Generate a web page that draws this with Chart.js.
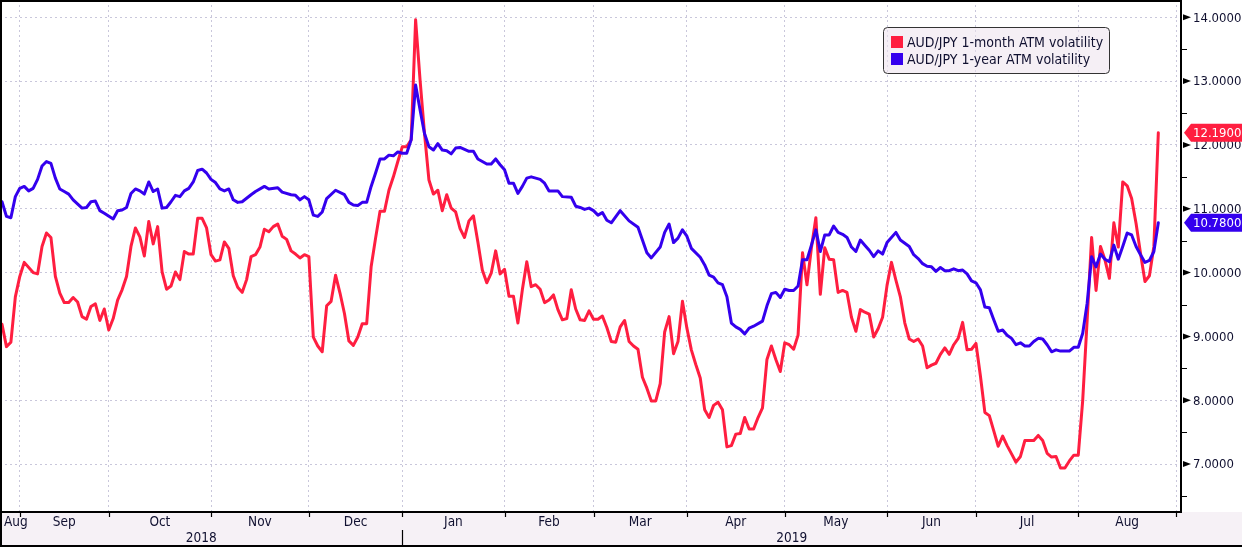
<!DOCTYPE html>
<html><head><meta charset="utf-8">
<script src="https://cdn.jsdelivr.net/npm/chart.js@4/dist/chart.umd.min.js"></script>
<style>html,body{margin:0;padding:0;background:#fff;overflow:hidden}canvas{display:block}</style>
</head><body><canvas id="c" width="1242" height="547"></canvas>
<script>
// ---- data (business-day index; day 1 = 28 Aug 2018) ----
const seriesNames = ['AUD/JPY 1-month ATM volatility', 'AUD/JPY 1-year ATM volatility'];
const firstDay = 1;
const vol1m = [
9.19,8.84,8.91,9.62,9.94,10.16,null,10.00,9.98,10.41,10.62,10.55,9.94,9.68,9.53,9.53,9.61,9.54,9.31,9.27,
9.47,9.51,9.25,9.43,9.10,9.28,9.57,9.73,9.94,10.41,10.70,10.56,10.26,10.80,10.45,10.72,10.01,9.74,9.79,10.01,
9.89,10.33,10.29,10.29,10.85,10.85,10.70,10.28,10.18,10.20,10.48,10.38,9.95,9.77,9.69,9.89,10.25,10.28,10.40,10.68,
10.64,10.72,10.76,10.57,10.52,10.34,10.29,10.23,10.28,10.25,8.99,8.85,8.76,9.48,9.55,9.96,9.68,9.36,8.93,8.86,
8.99,9.20,9.20,10.09,10.54,10.96,10.96,11.29,11.50,11.74,11.97,11.97,12.08,13.96,13.02,12.18,11.45,11.23,11.29,10.97,
11.22,11.01,10.95,10.69,10.55,10.81,10.89,10.48,10.04,9.84,9.99,10.34,9.98,10.05,9.63,9.63,9.21,9.73,10.17,9.78,
9.81,9.74,9.53,9.57,9.65,9.42,9.26,9.28,9.73,9.43,9.26,9.25,9.40,9.27,9.27,9.32,9.14,8.92,8.91,9.15,
9.25,8.92,8.85,8.80,8.36,8.19,7.99,7.99,8.26,9.07,9.31,8.73,8.92,9.55,9.13,8.79,8.56,8.35,7.85,7.73,
7.92,7.97,7.85,7.27,7.29,7.47,7.48,7.73,7.55,7.55,7.73,7.88,8.64,8.85,8.64,8.45,8.90,8.87,8.80,9.02,
10.31,9.81,10.39,10.86,9.66,10.39,10.21,10.20,9.69,9.72,9.69,9.30,9.08,9.42,9.38,9.35,8.99,9.12,9.30,9.80,
10.16,9.88,9.62,9.21,8.96,8.92,8.96,8.85,8.51,8.55,8.58,8.72,8.82,8.72,8.87,8.97,9.22,8.79,8.80,8.89,
8.38,7.81,7.76,7.52,7.28,7.44,7.29,7.16,7.03,7.12,7.37,7.37,7.37,7.45,7.37,7.17,7.11,7.12,6.94,6.94,
7.05,7.14,7.14,8.00,9.26,10.55,9.72,10.41,10.20,9.91,10.78,10.40,11.42,11.36,11.16,10.77,10.30,9.86,9.95,10.41,
12.19
];
const vol1y = [
11.11,10.88,10.86,11.19,11.32,11.35,11.28,11.32,11.46,11.67,11.74,11.71,11.48,11.31,11.27,11.23,11.14,null,11.01,11.02,
11.11,11.12,10.97,10.93,null,10.84,10.97,10.98,11.02,11.24,11.31,11.28,11.23,11.42,11.27,11.31,11.01,11.02,11.11,11.21,
11.19,11.28,11.32,11.42,11.60,11.62,11.56,11.46,11.41,11.31,11.28,11.31,11.14,11.10,11.11,null,11.22,11.27,null,11.35,
11.31,null,11.33,11.26,null,11.22,11.21,11.14,11.19,11.14,10.90,10.88,10.95,11.16,null,11.29,null,11.22,11.10,11.06,
11.05,11.10,11.10,11.35,11.56,11.78,11.78,11.84,11.83,11.89,11.87,11.87,12.08,12.94,12.55,12.18,11.97,11.92,12.02,11.92,
11.91,11.86,11.95,11.96,null,11.90,11.90,11.78,null,11.70,11.70,11.78,11.69,11.61,11.40,11.40,11.24,11.35,11.48,11.50,
null,11.46,11.40,11.28,null,11.28,11.19,null,11.18,11.04,11.02,10.99,11.01,10.97,10.90,10.94,10.82,10.78,null,10.97,
null,10.81,null,10.71,10.51,10.31,10.23,null,10.40,10.63,10.76,10.47,10.54,10.67,10.57,10.38,null,10.24,10.12,9.96,
9.93,9.84,9.81,9.62,9.21,9.15,9.11,9.04,9.13,9.16,null,9.24,9.48,9.67,9.69,9.61,9.74,9.72,9.72,9.79,
10.20,10.20,10.43,10.67,10.33,10.59,10.59,10.73,10.63,10.60,10.55,10.40,10.33,10.51,10.43,10.35,10.25,10.34,10.29,10.47,
null,10.63,10.51,null,10.41,10.28,10.22,10.14,10.10,10.09,10.02,10.08,10.03,10.03,10.06,10.03,10.04,9.98,9.87,9.84,
9.73,9.46,9.45,9.26,9.08,9.10,9.02,8.97,8.87,8.90,8.85,8.85,8.92,8.97,8.96,8.87,8.76,8.79,8.77,null,
8.77,8.83,8.83,9.05,9.52,10.25,10.09,10.29,10.21,10.17,10.43,10.21,10.41,10.62,10.59,10.41,10.28,10.16,10.19,10.33,
10.78
];
const lastLabels = ['12.1900', '10.7800'];
const monthStartDays = [5, 25, 48, 70, 91, 114, 134, 155, 177, 200, 220, 243, 265];
const monthLabels = ['Aug','Sep','Oct','Nov','Dec','Jan','Feb','Mar','Apr','May','Jun','Jul','Aug'];
const monthLabelDays = [4.1, 15, 36.5, 59, 80.5, 102.5, 124, 144.5, 166, 188.5, 210, 231.5, 254];
const yearLabels = ['2018', '2019'];
const yearBoundaryDay = 91;
const yTickValues = [7, 8, 9, 10, 11, 12, 13, 14];
const yTickLabels = ['7.0000','8.0000','9.0000','10.0000','11.0000','12.0000','13.0000','14.0000'];

// ---- style ----
const W = 1242, H = 547;
const RED = '#ff1e40', BLUE = '#3400ee';
const FONT = "'DejaVu Sans Condensed','DejaVu Sans',sans-serif";
const TXT = '#101030';

const toPts = arr => arr.map((v, i) => ({x: firstDay + i, y: v}));

const deco = {
  id: 'deco',
  beforeDraw(chart) {
    const ctx = chart.ctx, a = chart.chartArea;
    ctx.save();
    ctx.fillStyle = '#fff'; ctx.fillRect(0, 0, W, H);
    ctx.fillStyle = '#f6f1f6'; ctx.fillRect(0, a.bottom, W, H - a.bottom);
    ctx.restore();
  },
  afterDraw(chart) {
    const ctx = chart.ctx, a = chart.chartArea;
    const xs = chart.scales.x, ys = chart.scales.y;
    ctx.save();
    // frame
    ctx.strokeStyle = '#000'; ctx.lineWidth = 2;
    ctx.beginPath();
    ctx.moveTo(1, 0); ctx.lineTo(1, H);
    ctx.moveTo(0, 1); ctx.lineTo(a.right, 1);
    ctx.moveTo(a.right, 0); ctx.lineTo(a.right, a.bottom + 1);
    ctx.moveTo(0, a.bottom); ctx.lineTo(a.right + 1, a.bottom);
    ctx.moveTo(0, H - 1); ctx.lineTo(W, H - 1);
    ctx.stroke();
    // x tick marks
    ctx.lineWidth = 1.2;
    ctx.beginPath();
    monthStartDays.forEach(d => {
      const px = Math.round(xs.getPixelForValue(d)) + 0.5;
      ctx.moveTo(px, a.bottom); ctx.lineTo(px, a.bottom + 5);
    });
    // year separator
    const yb = Math.round(xs.getPixelForValue(yearBoundaryDay)) + 0.5;
    ctx.moveTo(yb, a.bottom + 18); ctx.lineTo(yb, H);
    ctx.stroke();
    // x labels
    ctx.fillStyle = TXT; ctx.font = '13.5px ' + FONT;
    ctx.textAlign = 'center'; ctx.textBaseline = 'middle';
    monthLabels.forEach((m, i) => ctx.fillText(m, xs.getPixelForValue(monthLabelDays[i]), a.bottom + 10));
    const yrCenters = [(a.left + yb) / 2, (yb + a.right) / 2];
    yearLabels.forEach((y, i) => ctx.fillText(y, yrCenters[i], a.bottom + 26));
    // y minor ticks + triangles + labels
    ctx.strokeStyle = '#000'; ctx.lineWidth = 1.2;
    ctx.beginPath();
    for (let v = 6.5; v <= 14; v += 1) {
      const py = Math.round(ys.getPixelForValue(v)) + 0.5;
      ctx.moveTo(a.right, py); ctx.lineTo(a.right + 6, py);
    }
    ctx.stroke();
    ctx.textAlign = 'left';
    ctx.font = '13px ' + FONT;
    yTickValues.forEach((v, i) => {
      const py = ys.getPixelForValue(v);
      ctx.fillStyle = '#000';
      ctx.beginPath();
      ctx.moveTo(a.right + 2, py - 3); ctx.lineTo(a.right + 10, py); ctx.lineTo(a.right + 2, py + 3);
      ctx.closePath(); ctx.fill();
      ctx.fillStyle = TXT;
      ctx.fillText(yTickLabels[i], a.right + 12, py + 1);
    });
    // last value badges
    const lastVals = [vol1m[vol1m.length - 1], vol1y[vol1y.length - 1]];
    [RED, BLUE].forEach((col, i) => {
      const py = ys.getPixelForValue(lastVals[i]);
      ctx.fillStyle = col;
      ctx.beginPath();
      ctx.moveTo(a.right + 3, py);
      ctx.lineTo(a.right + 10, py - 9);
      ctx.lineTo(W, py - 9); ctx.lineTo(W, py + 9);
      ctx.lineTo(a.right + 10, py + 9);
      ctx.closePath(); ctx.fill();
      ctx.fillStyle = '#fff';
      ctx.fillText(lastLabels[i], a.right + 12, py + 1);
    });
    // legend
    const lx = 883, ly = 27, lw = 226, lh = 46;
    ctx.beginPath();
    ctx.roundRect(lx + 0.5, ly + 0.5, lw, lh, 4);
    ctx.fillStyle = 'rgba(236,226,236,0.55)'; ctx.fill();
    ctx.strokeStyle = '#333'; ctx.lineWidth = 1; ctx.stroke();
    ctx.font = '14px ' + FONT;
    [RED, BLUE].forEach((col, i) => {
      const cy = ly + 15 + i * 17;
      ctx.fillStyle = col; ctx.fillRect(lx + 8, cy - 6, 12, 12);
      ctx.fillStyle = TXT;
      ctx.fillText(seriesNames[i], lx + 24, cy + 1);
    });
    ctx.restore();
  }
};

new Chart(document.getElementById('c'), {
  type: 'line',
  data: {
    datasets: [
      {label: seriesNames[1], data: toPts(vol1y), borderColor: BLUE, borderWidth: 3, order: 0},
      {label: seriesNames[0], data: toPts(vol1m), borderColor: RED, borderWidth: 3, order: 1}
    ]
  },
  options: {
    responsive: false, animation: false, devicePixelRatio: 1,
    layout: {padding: 0},
    elements: {point: {radius: 0}, line: {tension: 0, borderJoinStyle: 'round', borderCapStyle: 'round'}},
    spanGaps: true,
    plugins: {legend: {display: false}, tooltip: {enabled: false}},
    scales: {
      x: {
        type: 'linear', min: 0.55, max: 266.1,
        afterBuildTicks: s => { s.ticks = monthStartDays.map(v => ({value: v})); },
        afterFit: s => { s.height = 35; },
        ticks: {display: false},
        grid: {color: '#c9c7db', lineWidth: 1, drawTicks: false},
        border: {display: false, dash: [2, 3]}
      },
      y: {
        type: 'linear', position: 'right', min: 6.25, max: 14.27,
        afterBuildTicks: s => { s.ticks = yTickValues.map(v => ({value: v})); },
        afterFit: s => { s.width = 61; },
        ticks: {display: false},
        grid: {color: '#c9c7db', lineWidth: 1, drawTicks: false},
        border: {display: false, dash: [2, 3]}
      }
    }
  },
  plugins: [deco]
});
</script>
</body></html>
